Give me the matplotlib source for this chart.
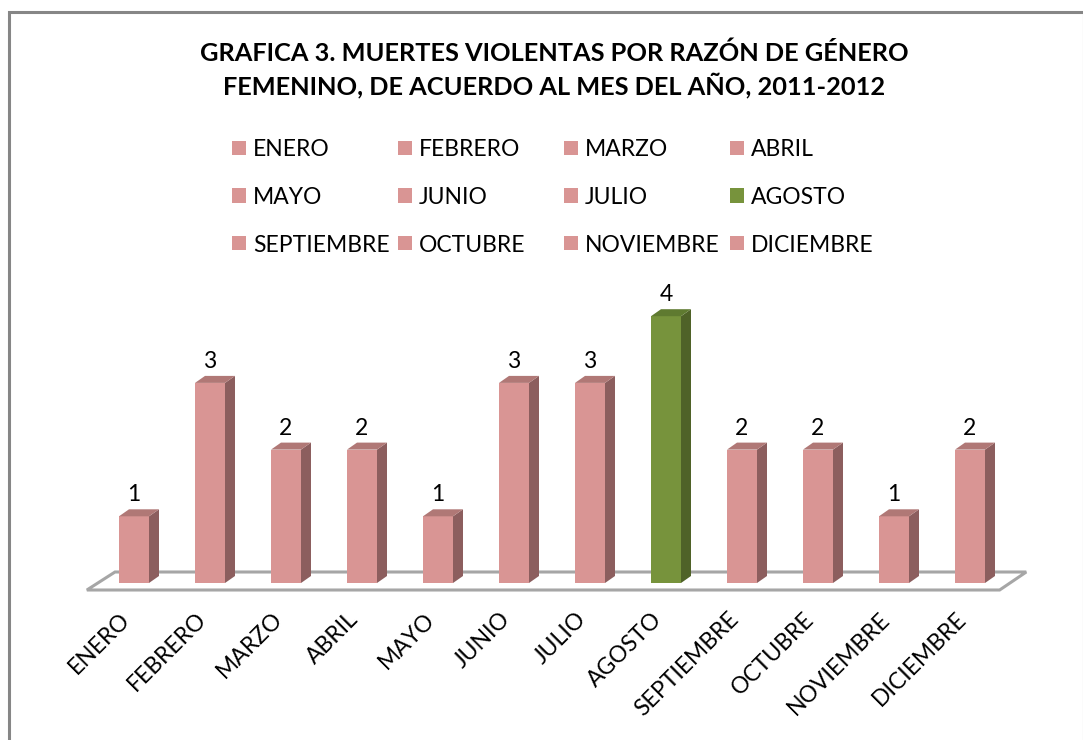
import matplotlib
matplotlib.use("Agg")
import matplotlib.pyplot as plt
from matplotlib.patches import Polygon, Rectangle

plt.rcParams['font.family'] = ['Lato', 'DejaVu Sans']

months = ["ENERO", "FEBRERO", "MARZO", "ABRIL", "MAYO", "JUNIO", "JULIO",
          "AGOSTO", "SEPTIEMBRE", "OCTUBRE", "NOVIEMBRE", "DICIEMBRE"]
values = [1, 3, 2, 2, 1, 3, 3, 4, 2, 2, 1, 2]
highlight = "AGOSTO"
title = "GRAFICA 3. MUERTES VIOLENTAS POR RAZÓN DE GÉNERO\nFEMENINO, DE ACUERDO AL MES DEL AÑO, 2011-2012"

pink = dict(face="#D99594", side="#8C5E5E", top="#B07876")
green = dict(face="#77933C", side="#4F6228", top="#5F7A30")

W, H = 1083, 740
fig = plt.figure(figsize=(W / 100, H / 100), dpi=100)

# outer chart border
fig.patches.append(Rectangle((9 / W, -0.01), (W - 8) / W, (H - 12) / H + 0.01,
                             transform=fig.transFigure, fill=False,
                             edgecolor="#868686", linewidth=2.2))

# axes in pixel layout
L, R, T, B = 60, 1060, 290, 600
ax = fig.add_axes([L / W, 1 - B / H, (R - L) / W, (B - T) / H])
px_x = 76.0
px_y = 66.7
x0 = 134.0
y0 = 583.0
ax.set_xlim((L - x0) / px_x, (R - x0) / px_x)
ax.set_ylim((y0 - B) / px_y, (y0 - T) / px_y)
ax.axis("off")

bar_w = 30 / px_x
dx = 10 / px_x
dy = 7 / px_y

# floor
n = len(months)
fl_front = -7 / px_y
fl_back = 11 / px_y
floor = Polygon([(-0.62, fl_front), (n - 1 + 0.39, fl_front),
                 (n - 1 + 0.74, fl_back), (-0.25, fl_back)],
                closed=True, facecolor="white", edgecolor="#A6A6A6",
                linewidth=2.2, zorder=1)
ax.add_patch(floor)

for i, (m, v) in enumerate(zip(months, values)):
    c = green if m == highlight else pink
    xl, xr = i - bar_w / 2, i + bar_w / 2
    ax.add_patch(Rectangle((xl, 0), bar_w, v, facecolor=c["face"],
                           edgecolor="none", zorder=3))
    ax.add_patch(Polygon([(xr, 0), (xr + dx, dy), (xr + dx, v + dy), (xr, v)],
                         closed=True, facecolor=c["side"], edgecolor="none", zorder=3))
    ax.add_patch(Polygon([(xl, v), (xr, v), (xr + dx, v + dy), (xl + dx, v + dy)],
                         closed=True, facecolor=c["top"], edgecolor="none", zorder=3))
    ax.annotate(str(v), (i, v), xytext=(0, 15), textcoords="offset pixels",
                ha="center", va="baseline", fontsize=16.5, color="black", zorder=4)

# x labels
for i, m in enumerate(months):
    ax.text(i - 7 / px_x, (y0 - 616) / px_y, m, rotation=45, rotation_mode="anchor",
            ha="right", va="center", fontsize=16.5, color="black")

# title
fig.text(554 / W, 1 - 70 / H, title, ha="center", va="center", fontsize=18.3,
         fontweight="bold", linespacing=1.38)

# legend drawn row-wise with uniform column widths
ncol = 4
col_x0, col_w = 232, 166
row_y0, row_h = 148, 47.5
sq = 14
for k, m in enumerate(months):
    c = green if m == highlight else pink
    r, cc = divmod(k, ncol)
    xs = col_x0 + cc * col_w
    yc = row_y0 + r * row_h
    fig.patches.append(Rectangle((xs / W, 1 - (yc + sq / 2) / H), sq / W, sq / H,
                                 transform=fig.transFigure, facecolor=c["face"],
                                 edgecolor="none"))
    fig.text((xs + 21) / W, 1 - yc / H, m, ha="left", va="center_baseline",
             fontsize=16.5, color="black")

fig.savefig("out.png", dpi=100)
